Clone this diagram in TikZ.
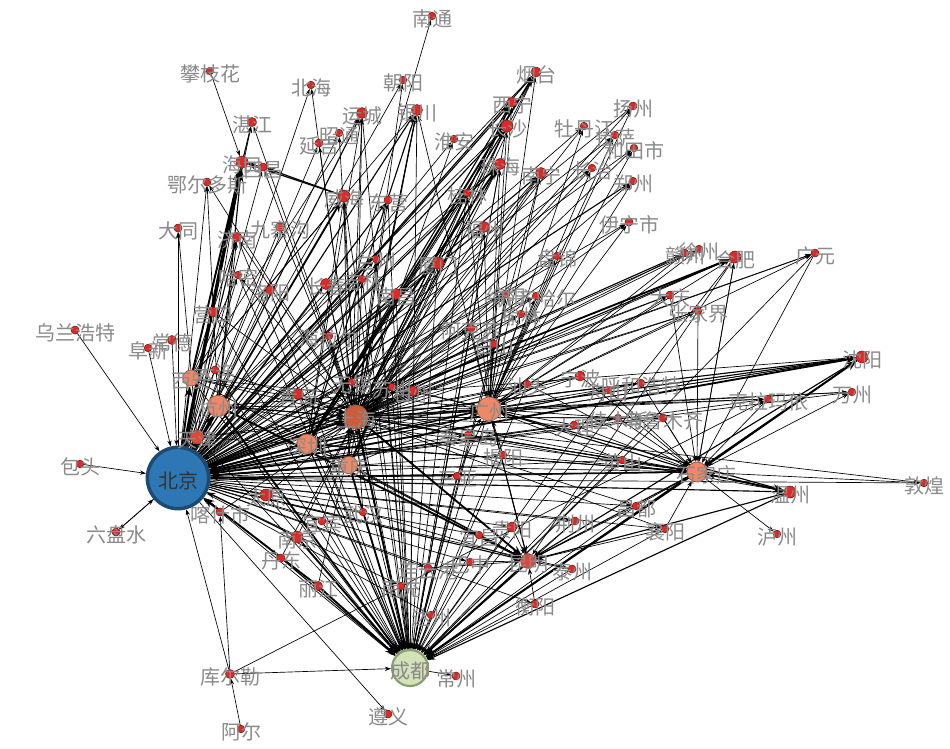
\documentclass[tikz,border=0pt]{standalone}
\usepackage{fontspec}
\newfontfamily\cjk{Noto Sans CJK SC}
\usetikzlibrary{arrows.meta}
\pgfdeclarelayer{edgelayer}
\pgfdeclarelayer{labellayer}
\pgfsetlayers{edgelayer,main,labellayer}
\definecolor{nred}{HTML}{DC2A26}
\definecolor{nredb}{HTML}{7A1414}
\definecolor{norange}{HTML}{EE8866}
\definecolor{norangeb}{HTML}{9A4E36}
\definecolor{ndark}{HTML}{C85E3C}
\definecolor{nblue}{HTML}{2D78B4}
\definecolor{nblueb}{HTML}{1C4A73}
\definecolor{ngreen}{HTML}{D4E2B7}
\definecolor{ngreenb}{HTML}{8C9D70}
\definecolor{labgray}{HTML}{8A8A8A}
\tikzset{
 rnode/.style={circle,draw=nredb,fill=nred,line width=0.4pt,inner sep=0pt},
 onode/.style={circle,draw=norangeb,fill=norange,line width=0.5pt,inner sep=0pt},
 citylab/.style={font=\cjk\fontsize{15}{15}\selectfont,text=labgray,inner sep=0pt},
 ethin/.style={draw=black,line width=0.5pt,-{Stealth[length=4.5pt,width=3.2pt]}},
 emed/.style={draw=black,line width=0.85pt,-{Stealth[length=6pt,width=4.5pt]}},
 ethk/.style={draw=black,line width=1.4pt,-{Stealth[length=8pt,width=6pt]}},
 evth/.style={draw=black,line width=2.6pt,-{Stealth[length=10pt,width=8pt]}},
}
\def\citylist{pzh/210/71/3.8/攀枝花, bh/311/85/3.8/北海, zj/252/122/4.5/湛江, hk/242/162/6/海口, xc/263/167/4/西昌,
yj/319/143/4/延吉, zt/339/133/3.8/昭通, eeds/207/182/4/鄂尔多斯, dt/178/228/4/大同, jn/237/237/4.5/济南,
jzg/280/227/4.5/九寨沟, nt/432/16/3.8/南通, cy/403/80/3.8/朝阳, yc/362/113/5.5/运城, ych/417/110/5.5/银川,
ha/454/139/3.8/淮安, yt/536/72/5/烟台, xn/512/102/5/西宁, cs/507/126/6/长沙, zh/500/164/5.5/珠海,
nn/541/173/5.5/南宁, mdj/584/126/3.8/牡丹江, ls/615/135/3.8/拉萨, czh/592/168/3.8/长治, gl/467/193/3.8/桂林,
wh/344/196/6/威海, dy/388/200/4/东营, fz/484/227/5.5/福州, yn/629/222/4/伊宁市, yz/633/106/4/扬州,
ht/634/148/3.8/和田市, zz/633/181/3.8/郑州, pj/557/256/3.8/盘锦, gz/685/253/3.8/赣州, xz/699/249/3.8/徐州,
hf/735/257/6/合肥, dq/670/295/4/大庆, zjj/698/311/3.8/张家界, my/506/294/4/绵阳, qqhe/536/296/3.8/齐齐哈尔,
yl/521/314/3.8/榆林, gy/815/253/4/广元, sy/862/357/6/沈阳, wz/852/392/3.8/万州, klmy/768/399/3.8/克拉玛依,
hhht/641/383/3.8/呼和浩特, wlmq/663/418/4/乌鲁木齐, wzh/790/492/6/温州, dh/924/483/3.8/敦煌, chd/636/506/3.8/昌都,
xy/665/529/3.8/襄阳, lz/777/534/3.8/泸州, yb/322/521/4/宜宾, wuh/363/512/3.8/武汉, ycg/479/535/3.8/宜昌,
gyg/512/527/5/贵阳, jz/575/521/4/荆州, bz/470/562/3.8/巴中, lyg/428/568/4/连云港, tz/572/569/4/泰州,
nc/401/586/3.8/南充, lj/318/586/4.5/丽江, hy/535/604/4/衡阳, dz/431/615/3.8/达州, chz/456/676/4/常州,
zy/388/714/4/遵义, lps/116/532/4/六盘水, ks/220/512/4/喀什市, ty/266/495/6/太原, nj/297/537/6/南京,
dd/281/558/4/丹东, kel/230/674/4.5/库尔勒, ae/241/729/3.8/阿尔, wlht/75/330/4/乌兰浩特, bt/80/464/3.8/包头,
fx/148/348/3.8/阜新, cde/172/340/4.5/常德, hm/238/275/3.8/哈密, lyy/270/290/4.5/洛阳, yk/213/312/5/营口,
dl/215/370/4/大连, qd/298/394/5.5/青岛, cc/326/284/5.5/长春, jl/362/279/3.8/吉林, lzh/376/259/3.8/兰州,
ncg/396/294/5.5/南昌, xm/438/263/6/厦门, hle/329/336/3.8/海拉尔, aks/471/328/4/阿克苏, bs/494/344/3.8/白山,
wx/352/382/3.8/无锡, sz/392/387/3.8/苏州, tzh/413/391/5/台州, st/527/384/3.8/汕头, nb/580/376/5/宁波,
zs/608/390/3.8/舟山, jms/618/418/3.8/佳木斯, dali/574/425/4/大理, qhd/468/435/3.8/秦皇岛, jy/503/455/3.8/揭阳,
sya/457/476/3.8/三亚, hs/622/460/3.8/黄山}
\begin{document}
\begin{tikzpicture}[x=0.75pt,y=-0.75pt]
\useasboundingbox (0,0) rectangle (950,749);
% small nodes
\foreach \nm/\x/\y/\rr/\lb in \citylist {
  \node[rnode,minimum size=\rr*1.5pt] (\nm) at (\x,\y) {};
}
% hubs
\node[circle,draw=nblueb,fill=nblue,line width=2.6pt,minimum size=46pt,inner sep=0pt] (bj) at (178,478) {};
\node[circle,draw=ngreenb,fill=ngreen,line width=1.6pt,minimum size=27pt,inner sep=0pt] (cd) at (410,668) {};
\node[circle,draw=norangeb,fill=ndark,line width=0.5pt,minimum size=18pt,inner sep=0pt] (h1) at (356,417) {};
\node[onode,minimum size=18pt] (h2) at (489,409) {};
\node[onode,minimum size=15pt] (h3) at (697,472) {};
\node[onode,minimum size=15pt] (h4) at (307,444) {};
\node[onode,minimum size=16pt] (h5) at (218,406) {};
\node[onode,minimum size=12pt] (h6) at (191,378) {};
\node[onode,minimum size=13pt] (h7) at (349,465) {};
\node[onode,fill=nred!70!norange,minimum size=10pt] (h8) at (197,437) {};
\node[onode,fill=nred!70!norange,minimum size=11pt] (h9) at (528,561) {};

\begin{pgfonlayer}{edgelayer}
\fill[white] (0,0) rectangle (950,749);
% Beijing outgoing
\foreach \tg in {bh,eeds,dt,zj,jzg,hm,lyy,yk,cc,jl,lzh,ncg,xm,hle,aks,bs,wx,sz,tzh,st,nb,zs,jms,dali,qhd,jy,sya,hs,fz,gl,czh,mdj,ls,yz,ht,yn,pj,xz,dq,zjj,my,qqhe,yl,gy,wz,klmy,hhht,wlmq,chd,xy,ycg,gyg,jz,tz,hy,dz,wuh,yb,nc,lyg,bz,zy,lps,zt,yj,cy,ha,xc,dd,ty,dh}
  \path[ethin] (bj) -- (\tg);
\foreach \tg in {h2,h3,ych,yc,xn,cs,zh,nn,jn,wzh,h9,gz,zz,dy,h4,h7,yt}
  \path[emed] (bj) -- (\tg);
\foreach \tg in {h1,h6,h5,hf,sy,wh}
  \path[ethk] (bj) -- (\tg);
\path[evth] (bj) -- (hk);
% into Beijing
\foreach \sr in {wlht,bt,fx,cde,kel,ks,dl,qd,h8,lps}
  \path[ethin] (\sr) -- (bj);
\foreach \sr in {nj,h1,h2,h3}
  \path[emed] (\sr) -- (bj);
\foreach \sr in {lj,h7,h4}
  \path[ethk] (\sr) -- (bj);
% hub 1
\foreach \tg in {ych,yc,yt,xn,cs,zh,nn,gl,wh,dy,fz,ha,cy,zt,yj,mdj,ls,czh,yz,ht,zz,yn,pj,gz,xz,dq,zjj,my,qqhe,yl,gy,wz,klmy,hhht,wlmq,jzg,jn,hm,xc,lzh,jl,cc,ncg,xm,aks,bs,st,nb,jms,dali,hs,chd,xy,zj,bh,eeds,wzh,dh}
  \path[ethin] (h1) -- (\tg);
\foreach \tg in {h3,h2,sy,hf,ych,xn,zh}
  \path[emed] (h1) -- (\tg);
\foreach \tg in {cd,h9}
  \path[ethk] (h1) -- (\tg);
\foreach \sr in {h5,h6,h8,dl,qd,wx,sz,tzh,hle,yk,ty,nj,dd,yb,wuh,ks,lj}
  \path[ethin] (\sr) -- (h1);
\foreach \sr in {h4,h5}
  \path[emed] (\sr) -- (h1);
% into Chengdu
\foreach \sr in {h2,h6,yb,wuh,ycg,gyg,jz,bz,lyg,tz,nc,hy,dz,kel,ty,ks,xy,chd,jy,sya,qhd,hs,wlmq,zs,lyy,cc,jl,lzh,ncg,xm,aks,bs,wx,sz,tzh,st,hle,qd,dl,h8,yk,hm,jn,wh,dy,zh,cs,ych,yc,nn,gl,fz,hf,gy}
  \path[ethin] (\sr) -- (cd);
\foreach \sr in {h4,sy,wzh,dd}
  \path[emed] (\sr) -- (cd);
\foreach \sr in {h5,h7,h9,nj,lj,h3}
  \path[ethk] (\sr) -- (cd);
\path[ethin] (cd) -- (chz);
% hub 2
\foreach \tg in {cs,zh,nn,xn,yt,ych,yz,ht,zz,gz,hf,dq,zjj,gy,klmy,wz,hhht,pj,czh,yn,mdj,ls,my,qqhe,yl,xz,fz,gl}
  \path[ethin] (h2) -- (\tg);
\foreach \tg in {sy,wzh,h3,h9}
  \path[emed] (h2) -- (\tg);
\foreach \sr in {h4,h5,h6,h7,st,nb,jms,dali,qhd,jy,aks,bs,sya,hs,tzh,sz,h8}
  \path[ethin] (\sr) -- (h2);
% hub 3
\foreach \sr in {h4,h5,h6,h7,h8,jms,hs,chd,xy,zjj,dq,gy,klmy,nb,zs,dali,st,wlmq,hhht,sya,qhd,jy,hf}
  \path[ethin] (\sr) -- (h3);
\foreach \sr in {sy,wzh}
  \path[emed] (\sr) -- (h3);
\foreach \tg in {sy,wzh}
  \path[ethk] (h3) -- (\tg);
\foreach \tg in {lz,dh,hf,wz}
  \path[ethin] (h3) -- (\tg);
\path[emed] (h3) -- (h9);
\foreach \sr in {h4,h5}
  \path[ethin] (\sr) -- (sy);
% hub 9
\foreach \sr in {h2,h4,h6,h7,jz,tz,gyg,ycg,wuh,hf,hy,xy,chd,lyg,bz}
  \path[ethin] (\sr) -- (h9);
\foreach \sr in {wzh,sy}
  \path[emed] (\sr) -- (h9);
\path[ethk] (h5) -- (h9);
% hub 4
\foreach \tg in {nt,wh,yc,nn,gl,hf,sy,h3}
  \path[ethin] (h4) -- (\tg);
\foreach \tg in {xn,cs,ych}
  \path[emed] (h4) -- (\tg);
\foreach \tg in {yt,zh}
  \path[ethk] (h4) -- (\tg);
% hubs 5-8
\path[ethk] (h6) -- (hk);
\foreach \tg in {zj,jn,ych,yc,wh,hm}
  \path[ethin] (h6) -- (\tg);
\path[emed] (h5) -- (hk);
\foreach \tg in {cs,yt,zh,jn,eeds}
  \path[ethin] (h5) -- (\tg);
\foreach \tg in {hk,dt}
  \path[ethin] (h8) -- (\tg);
\foreach \tg in {yt,xn,cs,zh,ych,yc,wh,gl,nn}
  \path[ethin] (h7) -- (\tg);
% misc
\path[ethin] (pzh) -- (hk);
\path[ethin] (xc) -- (hk);
\path[emed] (wh) -- (hk);
\path[ethin] (hk) -- (zj);
\path[emed] (wh) -- (xc);
\path[ethin] (kel) -- (klmy);
\path[ethin] (ae) -- (kel);
\path[ethin] (kel) -- (ks);
\end{pgfonlayer}

\begin{pgfonlayer}{labellayer}
\foreach \nm/\x/\y/\rr/\lb in \citylist {
  \node[citylab] (l\nm) at (\x,\y+3) {\lb};
}
\node[citylab,text=black!80] (lbj) at (178,481) {北京};
\node[citylab] (lcd) at (410,671) {成都};
\node[citylab] (lh1) at (356,420) {上海};
\node[citylab] (lh2) at (489,412) {广州};
\node[citylab] (lh3) at (706,475) {石家庄};
\node[citylab] (lh4) at (307,447) {深圳};
\node[citylab] (lh5) at (218,409) {杭州};
\node[citylab] (lh6) at (191,381) {西安};
\node[citylab] (lh7) at (349,468) {重庆};
\node[citylab] (lh8) at (197,440) {天津};
\node[citylab] (lh9) at (528,564) {昆明};
\end{pgfonlayer}
\end{tikzpicture}
\end{document}
